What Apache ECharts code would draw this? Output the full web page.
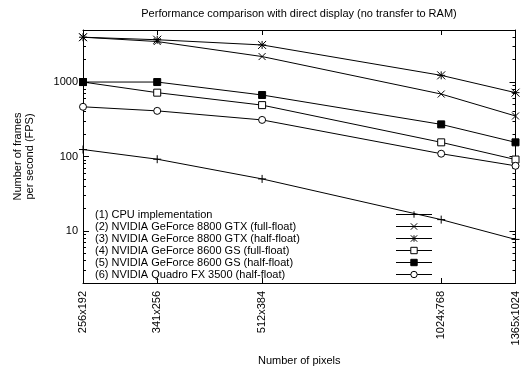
<!DOCTYPE html>
<html><head><meta charset="utf-8">
<script src="https://cdn.jsdelivr.net/npm/echarts@6/dist/echarts.min.js"></script>
<style>html,body{margin:0;padding:0;background:#fff}#c{width:521px;height:375px}</style>
</head><body><div id="c"></div>
<script>
// ---- data ----
const resolutions = ['256x192', '341x256', '512x384', '1024x768', '1365x1024'];
const widths = [256, 341, 512, 1024, 1365];
const heights = [192, 256, 384, 768, 1024];
const seriesNames = [
  '(1) CPU implementation',
  '(2) NVIDIA GeForce 8800 GTX (full-float)',
  '(3) NVIDIA GeForce 8800 GTX (half-float)',
  '(4) NVIDIA GeForce 8600 GS (full-float)',
  '(5) NVIDIA GeForce 8600 GS (half-float)',
  '(6) NVIDIA Quadro FX 3500 (half-float)'
];
const cpu        = [124, 92, 50, 14.2, 7.7];
const gtxFull    = [4000, 3500, 2200, 690, 350];
const gtxHalf    = [4000, 3700, 3150, 1230, 720];
const gsFull     = [1000, 720, 490, 155, 91];
const gsHalf     = [1000, 1000, 670, 270, 155];
const quadroHalf = [465, 410, 310, 109, 75];
const yTickLabels = [10, 100, 1000];

const pixelCounts = widths.map((w, i) => w * heights[i]);
const FONT = '"Liberation Sans", Arial, Helvetica, sans-serif';

const minorTicks = [];
[1, 10, 100, 1000].forEach(d => { for (let m = 2; m <= 9; m++) { const v = m * d; if (v >= 2 && v <= 5000) minorTicks.push(v); } });

const SYM = {
  plus: 'path://M5,0L5,10M0,5L10,5',
  cross: 'path://M0,0L10,10M0,10L10,0',
  star: 'path://M5,0L5,10M0,5L10,5M0,0L10,10M0,10L10,0'
};
const allData = [cpu, gtxFull, gtxHalf, gsFull, gsHalf, quadroHalf];
const symbols = [SYM.plus, SYM.cross, SYM.star, 'rect', 'rect', 'circle'];
const symFill = ['#000', '#000', '#000', '#fff', '#000', '#fff'];
const symSizes = [8, 7, 8, 7, 7, 7];

function xLabel(v) {
  for (let i = 0; i < pixelCounts.length; i++) {
    if (Math.abs(pixelCounts[i] - v) / pixelCounts[i] < 1e-3) return resolutions[i];
  }
  return '';
}

const axisLine = { show: true, lineStyle: { color: '#000', width: 1 } };
const xBase = { type: 'log', logBase: 10, min: pixelCounts[0], max: pixelCounts[pixelCounts.length - 1], splitLine: { show: false } };
const yBase = { type: 'log', logBase: 10, min: 2, max: 5000, splitLine: { show: false } };

const chart = echarts.init(document.getElementById('c'), null, { renderer: 'canvas' });
chart.setOption({
  animation: false,
  backgroundColor: '#fff',
  textStyle: { fontFamily: FONT, color: '#000' },
  title: {
    text: 'Performance comparison with direct display (no transfer to RAM)',
    left: 299, top: 8, padding: 0, textAlign: 'center',
    textStyle: { fontSize: 11, fontWeight: 'normal', color: '#000', fontFamily: FONT }
  },
  grid: { left: 83, right: 5, top: 30, bottom: 92, containLabel: false },
  legend: {
    orient: 'vertical', left: 90, top: 203.5, align: 'right',
    itemWidth: 36, itemHeight: 8, itemGap: 0,
    data: seriesNames,
    lineStyle: { color: '#000', width: 1 },
    itemStyle: { borderColor: '#000', borderWidth: 1 },
    formatter: n => '{t|' + n + '}',
    textStyle: { fontSize: 11, color: '#000', fontFamily: FONT, lineHeight: 12,
      rich: { t: { width: 296, align: 'left', fontSize: 11, color: '#000', fontFamily: FONT, lineHeight: 12 } } }
  },
  xAxis: [
    Object.assign({}, xBase, {
      position: 'bottom', axisLine,
      axisTick: { show: true, inside: true, length: 5, customValues: pixelCounts, lineStyle: { color: '#000' } },
      axisLabel: { customValues: pixelCounts, rotate: 90, margin: 8, fontSize: 11, color: '#000', fontFamily: FONT, formatter: xLabel },
      name: 'Number of pixels', nameLocation: 'middle', nameGap: 72,
      nameTextStyle: { fontSize: 11, color: '#000', fontFamily: FONT }
    }),
    Object.assign({}, xBase, {
      position: 'top', axisLine,
      axisTick: { show: true, inside: true, length: 5, customValues: pixelCounts, lineStyle: { color: '#000' } },
      axisLabel: { show: false }
    })
  ],
  yAxis: [
    Object.assign({}, yBase, {
      position: 'left', axisLine,
      axisTick: { show: true, inside: true, length: 6, customValues: yTickLabels, lineStyle: { color: '#000' } },
      axisLabel: { customValues: yTickLabels, margin: 5, fontSize: 11, color: '#000', fontFamily: FONT, formatter: v => String(Math.round(v)) },
      name: 'Number of frames\nper second (FPS)', nameLocation: 'middle', nameGap: 47,
      nameTextStyle: { fontSize: 11, color: '#000', fontFamily: FONT, lineHeight: 12, align: 'center' }
    }),
    Object.assign({}, yBase, {
      position: 'right', axisLine,
      axisTick: { show: true, inside: true, length: 6, customValues: yTickLabels, lineStyle: { color: '#000' } },
      axisLabel: { show: false }
    }),
    Object.assign({}, yBase, {
      position: 'left', axisLine: { show: false },
      axisTick: { show: true, inside: true, length: 3, customValues: minorTicks, lineStyle: { color: '#000' } },
      axisLabel: { show: false }
    }),
    Object.assign({}, yBase, {
      position: 'right', axisLine: { show: false },
      axisTick: { show: true, inside: true, length: 3, customValues: minorTicks, lineStyle: { color: '#000' } },
      axisLabel: { show: false }
    })
  ],
  series: allData.map((arr, k) => ({
    name: seriesNames[k],
    type: 'line',
    xAxisIndex: 0, yAxisIndex: 0,
    data: arr.map((v, i) => [pixelCounts[i], v]),
    symbol: symbols[k],
    symbolSize: symSizes[k],
    symbolKeepAspect: true,
    showAllSymbol: true,
    lineStyle: { color: '#000', width: 1 },
    itemStyle: { color: symFill[k], borderColor: '#000', borderWidth: 1 },
    emphasis: { disabled: true }
  }))
});
</script></body></html>
